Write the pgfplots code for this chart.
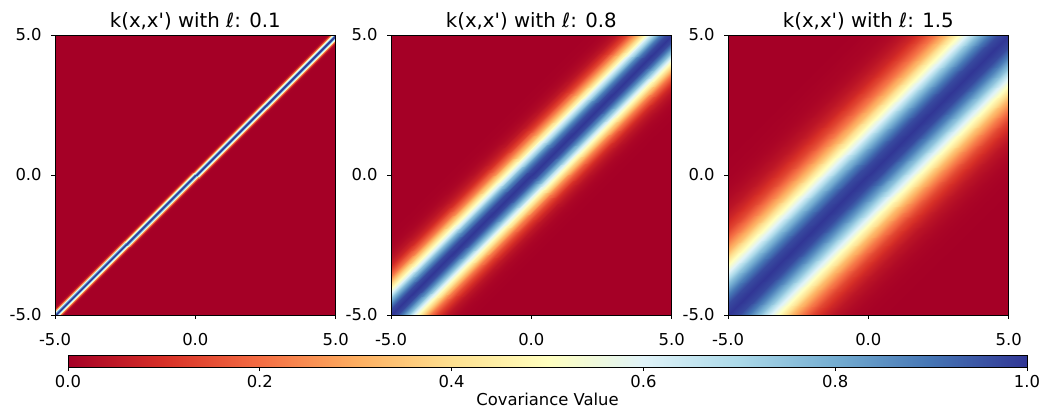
\documentclass[border=0pt]{standalone}
\usepackage{pgfplots}
\pgfplotsset{compat=1.18}
\usepackage{pgfplotstable}
\usepackage{fontspec}
\setmainfont{DejaVu Sans}
\definecolor{cmzero}{RGB}{165,0,38}
\pgfplotsset{colormap={rdylbu}{rgb255=(165,0,38) rgb255=(215,48,39) rgb255=(244,109,67) rgb255=(253,174,97) rgb255=(254,224,144) rgb255=(255,255,191) rgb255=(224,243,248) rgb255=(171,217,233) rgb255=(116,173,209) rgb255=(69,117,180) rgb255=(49,54,149)}}

% kernel value v along the line x' = x + c, from where it enters to where it leaves the square
\pgfplotstableread{
x y v
-4.6 -5 0.0003
5 4.6 0.0003
-4.625 -5 0.0009
5 4.625 0.0009
-4.65 -5 0.0022
5 4.65 0.0022
-4.675 -5 0.0051
5 4.675 0.0051
-4.7 -5 0.0111
5 4.7 0.0111
-4.725 -5 0.0228
5 4.725 0.0228
-4.75 -5 0.0439
5 4.75 0.0439
-4.775 -5 0.0796
5 4.775 0.0796
-4.8 -5 0.1353
5 4.8 0.1353
-4.825 -5 0.2163
5 4.825 0.2163
-4.85 -5 0.3247
5 4.85 0.3247
-4.875 -5 0.4578
5 4.875 0.4578
-4.9 -5 0.6065
5 4.9 0.6065
-4.925 -5 0.7548
5 4.925 0.7548
-4.95 -5 0.8825
5 4.95 0.8825
-4.975 -5 0.9692
5 4.975 0.9692
-5 -5 1
5 5 1
-5 -4.975 0.9692
4.975 5 0.9692
-5 -4.95 0.8825
4.95 5 0.8825
-5 -4.925 0.7548
4.925 5 0.7548
-5 -4.9 0.6065
4.9 5 0.6065
-5 -4.875 0.4578
4.875 5 0.4578
-5 -4.85 0.3247
4.85 5 0.3247
-5 -4.825 0.2163
4.825 5 0.2163
-5 -4.8 0.1353
4.8 5 0.1353
-5 -4.775 0.0796
4.775 5 0.0796
-5 -4.75 0.0439
4.75 5 0.0439
-5 -4.725 0.0228
4.725 5 0.0228
-5 -4.7 0.0111
4.7 5 0.0111
-5 -4.675 0.0051
4.675 5 0.0051
-5 -4.65 0.0022
4.65 5 0.0022
-5 -4.625 0.0009
4.625 5 0.0009
-5 -4.6 0.0003
4.6 5 0.0003
}\kA

\pgfplotstableread{
x y v
-1.8 -5 0.0003
5 1.8 0.0003
-2.0 -5 0.0009
5 2.0 0.0009
-2.2 -5 0.0022
5 2.2 0.0022
-2.4 -5 0.0051
5 2.4 0.0051
-2.6 -5 0.0111
5 2.6 0.0111
-2.8 -5 0.0228
5 2.8 0.0228
-3.0 -5 0.0439
5 3.0 0.0439
-3.2 -5 0.0796
5 3.2 0.0796
-3.4 -5 0.1353
5 3.4 0.1353
-3.6 -5 0.2163
5 3.6 0.2163
-3.8 -5 0.3247
5 3.8 0.3247
-4.0 -5 0.4578
5 4.0 0.4578
-4.2 -5 0.6065
5 4.2 0.6065
-4.4 -5 0.7548
5 4.4 0.7548
-4.6 -5 0.8825
5 4.6 0.8825
-4.8 -5 0.9692
5 4.8 0.9692
-5 -5 1
5 5 1
-5 -4.8 0.9692
4.8 5 0.9692
-5 -4.6 0.8825
4.6 5 0.8825
-5 -4.4 0.7548
4.4 5 0.7548
-5 -4.2 0.6065
4.2 5 0.6065
-5 -4.0 0.4578
4.0 5 0.4578
-5 -3.8 0.3247
3.8 5 0.3247
-5 -3.6 0.2163
3.6 5 0.2163
-5 -3.4 0.1353
3.4 5 0.1353
-5 -3.2 0.0796
3.2 5 0.0796
-5 -3.0 0.0439
3.0 5 0.0439
-5 -2.8 0.0228
2.8 5 0.0228
-5 -2.6 0.0111
2.6 5 0.0111
-5 -2.4 0.0051
2.4 5 0.0051
-5 -2.2 0.0022
2.2 5 0.0022
-5 -2.0 0.0009
2.0 5 0.0009
-5 -1.8 0.0003
1.8 5 0.0003
}\kB

\pgfplotstableread{
x y v
1 -5 0.0003
5 -1 0.0003
0.625 -5 0.0009
5 -0.625 0.0009
0.25 -5 0.0022
5 -0.25 0.0022
-0.125 -5 0.0051
5 0.125 0.0051
-0.5 -5 0.0111
5 0.5 0.0111
-0.875 -5 0.0228
5 0.875 0.0228
-1.25 -5 0.0439
5 1.25 0.0439
-1.625 -5 0.0796
5 1.625 0.0796
-2 -5 0.1353
5 2 0.1353
-2.375 -5 0.2163
5 2.375 0.2163
-2.75 -5 0.3247
5 2.75 0.3247
-3.125 -5 0.4578
5 3.125 0.4578
-3.5 -5 0.6065
5 3.5 0.6065
-3.875 -5 0.7548
5 3.875 0.7548
-4.25 -5 0.8825
5 4.25 0.8825
-4.625 -5 0.9692
5 4.625 0.9692
-5 -5 1
5 5 1
-5 -4.625 0.9692
4.625 5 0.9692
-5 -4.25 0.8825
4.25 5 0.8825
-5 -3.875 0.7548
3.875 5 0.7548
-5 -3.5 0.6065
3.5 5 0.6065
-5 -3.125 0.4578
3.125 5 0.4578
-5 -2.75 0.3247
2.75 5 0.3247
-5 -2.375 0.2163
2.375 5 0.2163
-5 -2 0.1353
2 5 0.1353
-5 -1.625 0.0796
1.625 5 0.0796
-5 -1.25 0.0439
1.25 5 0.0439
-5 -0.875 0.0228
0.875 5 0.0228
-5 -0.5 0.0111
0.5 5 0.0111
-5 -0.125 0.0051
-0.125 5 0.0051
-5 0.25 0.0022
-0.25 5 0.0022
-5 0.625 0.0009
-0.625 5 0.0009
-5 1 0.0003
-1 5 0.0003
}\kC

\pgfplotstableread{
x y v
0 0 0
0.1 0 0.1
0.2 0 0.2
0.3 0 0.3
0.4 0 0.4
0.5 0 0.5
0.6 0 0.6
0.7 0 0.7
0.8 0 0.8
0.9 0 0.9
1 0 1
0 1 0
0.1 1 0.1
0.2 1 0.2
0.3 1 0.3
0.4 1 0.4
0.5 1 0.5
0.6 1 0.6
0.7 1 0.7
0.8 1 0.8
0.9 1 0.9
1 1 1
}\cbar

\pgfplotsset{
  hm/.style={
    anchor=north west,
    width=210.5pt, height=210pt, scale only axis,
    xmin=-5, xmax=5, ymin=-5, ymax=5,
    xtick={-5,0,5}, ytick={-5,0,5},
    xticklabels={-5.0,0.0,5.0}, yticklabels={-5.0,0.0,5.0},
    tick pos=left,
    tick align=outside, major tick length=3pt,
    tick style={black, line width=0.6pt},
    axis line style={black, line width=0.6pt},
    tick label style={font=\fontsize{12.3}{14}\selectfont},
    xticklabel style={yshift=-7pt},
    yticklabel style={xshift=-3.5pt},
    title style={font=\fontsize{14.8}{17}\selectfont, yshift=-6pt},
    axis background/.style={fill=cmzero},
    colormap name=rdylbu, point meta min=0, point meta max=1,
    axis on top,
  },
  strip/.style={surf, shader=interp, mesh/cols=2, point meta=explicit},
}

\begin{document}
\begin{tikzpicture}
\path[use as bounding box] (0,0) rectangle (783pt,-307.5pt);

\begin{axis}[hm, at={(41.25pt,-26.25pt)}, title={k(x,x\textquotesingle) with {\itshape ℓ}: 0.1}]
\addplot[strip] table[x=x, y=y, meta=v] {\kA};
\end{axis}

\begin{axis}[hm, at={(293.25pt,-26.25pt)}, title={k(x,x\textquotesingle) with {\itshape ℓ}: 0.8}]
\addplot[strip] table[x=x, y=y, meta=v] {\kB};
\end{axis}

\begin{axis}[hm, at={(546pt,-26.25pt)}, title={k(x,x\textquotesingle) with {\itshape ℓ}: 1.5}]
\addplot[strip] table[x=x, y=y, meta=v] {\kC};
\end{axis}

\begin{axis}[
  anchor=north west, at={(51pt,-266.25pt)},
  width=719.25pt, height=9pt, scale only axis,
  xmin=0, xmax=1, ymin=0, ymax=1,
  ytick=\empty,
  xtick={0,0.2,0.4,0.6,0.8,1},
  xticklabels={0.0,0.2,0.4,0.6,0.8,1.0},
  tick pos=left,
  tick align=outside, major tick length=3pt,
  tick style={black, line width=0.6pt},
  axis line style={black, line width=0.6pt},
  tick label style={font=\fontsize{12.3}{14}\selectfont},
  xlabel={Covariance Value},
  xlabel style={font=\fontsize{12.3}{14}\selectfont, yshift=3pt},
  colormap name=rdylbu, point meta min=0, point meta max=1,
  axis on top,
]
\addplot[surf, shader=interp, mesh/cols=11, point meta=explicit] table[x=x, y=y, meta=v] {\cbar};
\end{axis}
\end{tikzpicture}
\end{document}
